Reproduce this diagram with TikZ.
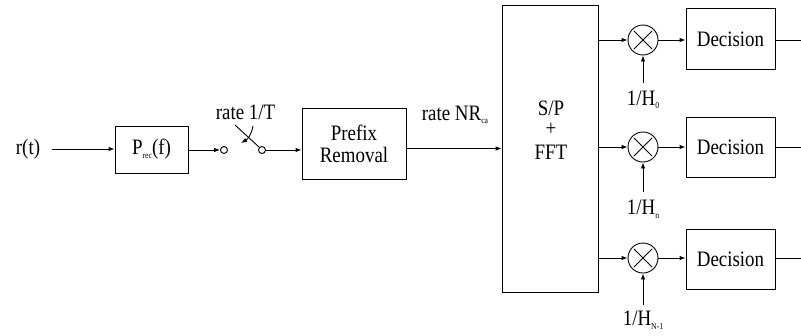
\documentclass[tikz,border=0pt]{standalone}
\usepackage{fontspec}
\setmainfont{Liberation Serif}[FakeStretch=0.86]
\usetikzlibrary{arrows.meta}
\newcommand{\sbs}[1]{\raisebox{-0.35ex}{\fontsize{9}{9}\selectfont #1}}
\tikzset{
  every node/.style={font=\fontsize{22}{22}\selectfont},
  blk/.style={draw, line width=0.9pt, inner sep=0pt, align=center},
  mult/.style={draw, circle, line width=0.9pt, minimum size=30pt, inner sep=0pt},
  sw/.style={draw, circle, line width=0.9pt, minimum size=7pt, inner sep=0pt},
  lab/.style={inner sep=1pt},
  ar/.style={line width=0.9pt, -{Latex[length=6pt,width=4.5pt]}},
  ln/.style={line width=0.9pt}
}
\begin{document}
\begin{tikzpicture}[x=1pt,y=-1pt]
\useasboundingbox (0,0) rectangle (801,335);
% input chain
\node[lab] (r) at (28,149) {r(t)};
\node[blk, minimum width=73pt, minimum height=47pt] (p) at (151.5,149.5) {P\sbs{rec}(f)};
\node[sw] (c1) at (224,150) {};
\node[sw] (c2) at (262,150) {};
\node[lab] (rt) at (245.5,112) {rate 1/T};
\node[blk, minimum width=104pt, minimum height=71pt] (pr) at (354,143.5) {Prefix\\Removal};
\node[lab] (rn) at (455,115) {rate NR\sbs{ca}};
\node[blk, minimum width=96pt, minimum height=287pt] (fft) at (550,148.5) {};
\node[lab] (sp) at (551,108) {S/P};
\node[lab] (pl) at (551,129) {+};
\node[lab] (ft) at (551,152) {FFT};

\coordinate (rs) at (52,149);
\draw[ar] (rs) -- (p.west |- rs);
\draw[ar] (p.east |- c1) -- (c1.west);
\draw[ar] (c2.east) -- (pr.west |- c2);
\draw[ar] (pr.east |- fft.west) -- (fft.west);
% switch
\coordinate (l1) at (235,125);
\coordinate (s1) at (253,126);
\coordinate (s2) at (241,143);
\draw[ln] (l1) -- (c2.north west);
\draw[ar] (s1) to[bend left=25] (s2);

% branches
\node[mult] (m1) at (643,40) {};
\node[mult] (m2) at (643,147) {};
\node[mult] (m3) at (643,258) {};
\node[blk, minimum width=89pt, minimum height=61pt] (d1) at (730.5,39) {Decision};
\node[blk, minimum width=89pt, minimum height=60pt] (d2) at (730.5,147.5) {Decision};
\node[blk, minimum width=89pt, minimum height=60pt] (d3) at (730.5,259) {Decision};
\node[lab] (h1) at (643,100) {1/H\sbs{0}};
\node[lab] (h2) at (643,209) {1/H\sbs{n}};
\node[lab] (h3) at (643,320) {1/H\sbs{N-1}};
\coordinate (v1) at (643,83);
\coordinate (v2) at (643,192);
\coordinate (v3) at (643,305);
\coordinate (o1) at (801,40);
\coordinate (o2) at (801,147);
\coordinate (o3) at (801,258);
\foreach \i in {1,2,3}{
  \draw[ln, shorten <=2.5pt, shorten >=2.5pt] (m\i.north west) -- (m\i.south east);
  \draw[ln, shorten <=2.5pt, shorten >=2.5pt] (m\i.north east) -- (m\i.south west);
  \draw[ar] (fft.east |- m\i.west) -- (m\i.west);
  \draw[ar] (m\i.east) -- (d\i.west |- m\i.east);
  \draw[ar] (v\i) -- (m\i.south);
  \draw[ln] (d\i.east |- o\i) -- (o\i);
}
\end{tikzpicture}
\end{document}
